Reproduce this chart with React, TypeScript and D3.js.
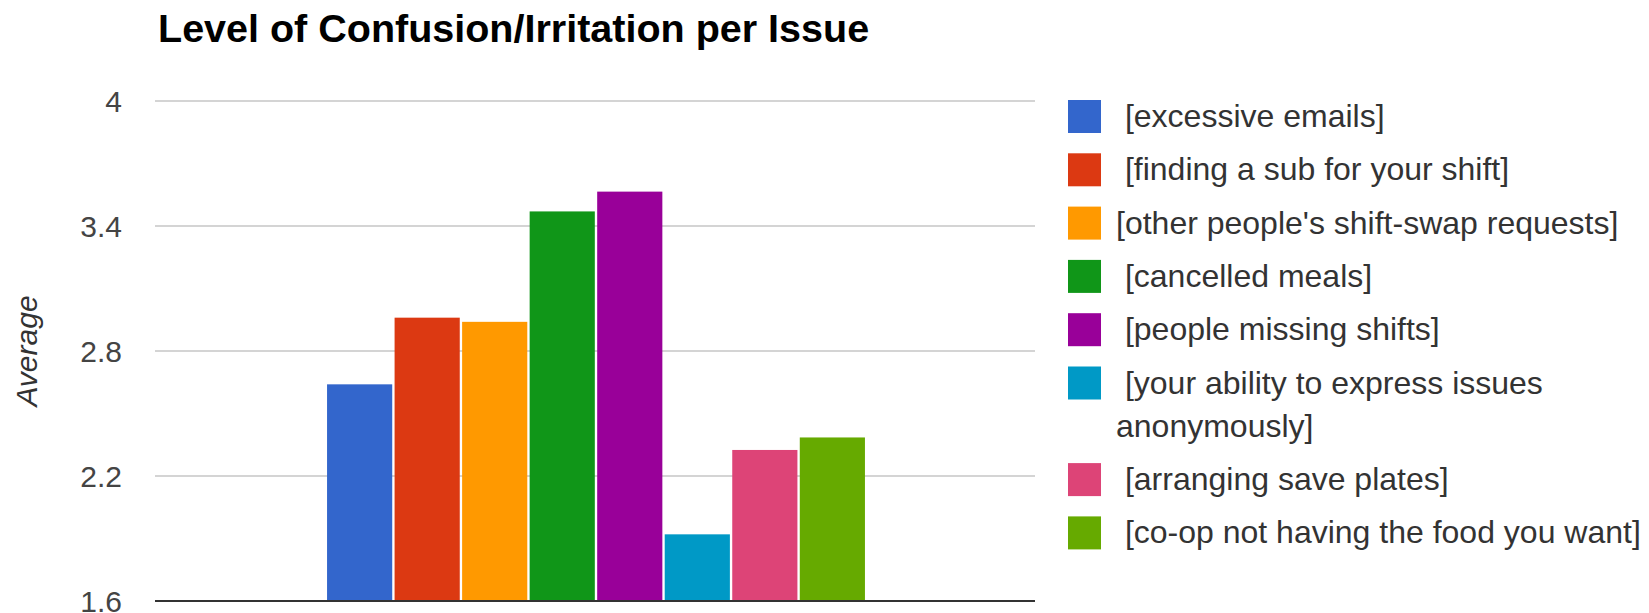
import React from 'react';
import * as d3 from 'd3';

const issues = [
  ' [excessive emails]',
  ' [finding a sub for your shift]',
  "[other people's shift-swap requests]",
  ' [cancelled meals]',
  ' [people missing shifts]',
  ' [your ability to express issues anonymously]',
  ' [arranging save plates]',
  ' [co-op not having the food you want]',
];
const averages = [2.64, 2.96, 2.94, 3.47, 3.565, 1.92, 2.325, 2.385];
const colors = ['#3366cc', '#dc3912', '#ff9900', '#109618', '#990099', '#0099c6', '#dd4477', '#66aa00'];
const yTicks = [1.6, 2.2, 2.8, 3.4, 4];

const W = 1649;
const H = 613;
const plot = { left: 155, right: 1035, top: 101, bottom: 601 };
const legendFont = "32px 'Liberation Sans', Arial, sans-serif";

// greedy word wrap using canvas text metrics
const wrap = (text: string, maxWidth: number): string[] => {
  const ctx = document.createElement('canvas').getContext('2d')!;
  ctx.font = legendFont;
  const words = text.split(' ');
  const lines: string[] = [];
  let line = '';
  words.forEach((w, i) => {
    const test = i === 0 ? w : line + ' ' + w;
    if (line.trim() !== '' && ctx.measureText(test).width > maxWidth) {
      lines.push(line);
      line = w;
    } else {
      line = test;
    }
  });
  lines.push(line);
  return lines;
};

export default function App() {
  const y = d3.scaleLinear().domain([1.6, 4]).range([plot.bottom, plot.top]);
  const group = d3.scaleBand<string>().domain(['']).range([plot.left, plot.right]).paddingOuter(0.318);
  const x = d3
    .scaleBand<string>()
    .domain(issues)
    .range([group('')! + 1, group('')! + 1 + group.bandwidth()])
    .paddingInner(0.035);

  const lineH = 43.3;
  const rowGap = 10;
  let cursor = 100;
  const legendRows = issues.map((label, i) => {
    const lines = wrap(label, 560);
    const row = { label, lines, top: cursor, color: colors[i] };
    cursor += lines.length * lineH + rowGap;
    return row;
  });

  return (
    <svg
      width={W}
      height={H}
      style={{ position: 'absolute', left: 0, top: 0, background: '#fff' }}
      fontFamily="'Liberation Sans', Arial, sans-serif"
    >
      <text x={158} y={42} fontSize={39.5} fontWeight="bold" fill="#000">
        Level of Confusion/Irritation per Issue
      </text>

      {yTicks.map(t => (
        <g key={t}>
          {t !== 1.6 && (
            <line x1={plot.left} x2={plot.right} y1={y(t)} y2={y(t)} stroke="#d4d4d4" strokeWidth={2} />
          )}
          <text x={122} y={y(t)} dy="0.36em" textAnchor="end" fontSize={30} fill="#444">
            {t}
          </text>
        </g>
      ))}

      <text
        transform={`translate(37, ${(plot.top + plot.bottom) / 2}) rotate(-90)`}
        textAnchor="middle"
        fontSize={30}
        fontStyle="italic"
        fill="#333"
      >
        Average
      </text>

      {issues.map((d, i) => (
        <rect
          key={d}
          x={x(d)}
          y={y(averages[i])}
          width={x.bandwidth()}
          height={y(1.6) - y(averages[i])}
          fill={colors[i]}
        />
      ))}

      <line x1={plot.left} x2={plot.right} y1={plot.bottom} y2={plot.bottom} stroke="#333" strokeWidth={2} />

      {legendRows.map(r => (
        <g key={r.label}>
          <rect x={1068} y={r.top} width={33} height={33} fill={r.color} />
          {r.lines.map((ln, j) => (
            <text
              key={j}
              x={1116}
              y={r.top + 27 + j * lineH}
              fontSize={32}
              fill="#333"
              style={{ whiteSpace: 'pre' }}
            >
              {ln}
            </text>
          ))}
        </g>
      ))}
    </svg>
  );
}
